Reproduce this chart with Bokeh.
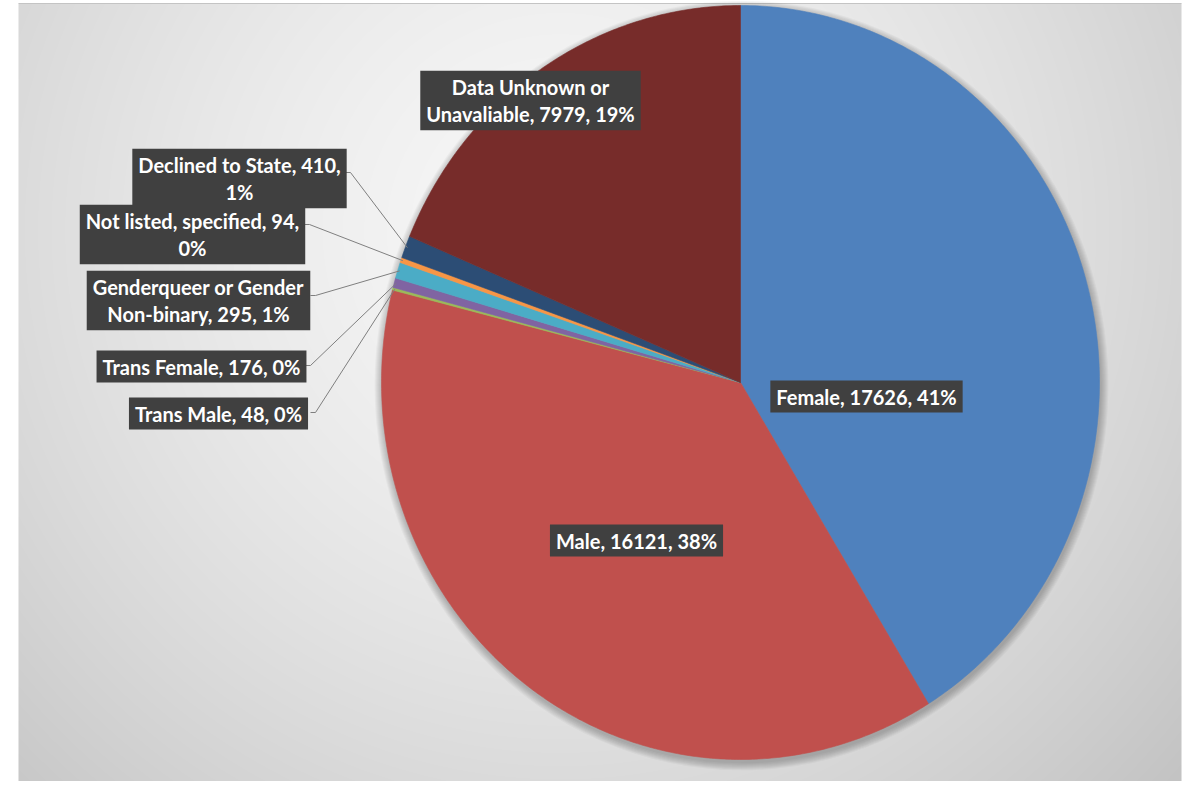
import numpy as np
from bokeh.plotting import figure
from bokeh.models import Range1d
from bokeh.core.properties import value
from bokeh.embed import file_html
from bokeh.resources import INLINE

# ---------------- data ----------------
categories = ["Female", "Male", "Trans Male", "Trans Female",
              "Genderqueer or Gender Non-binary", "Not listed, specified",
              "Declined to State", "Data Unknown or Unavaliable"]
counts = [17626, 16121, 48, 176, 295, 94, 410, 7979]
colors = ["#4F81BD", "#C0504D", "#9BBB59", "#8064A2",
          "#4BACC6", "#F79646", "#2C4D75", "#772C2A"]
# where each label wraps onto a second line
wrap_before = [None, None, None, None, "Non-binary", None, None, "Unavaliable"]
wrap_pct = [False, False, False, False, False, True, True, False]

# ---------------- layout (image pixels) ----------------
W, H = 1184, 781
def fy(py):
    return H - py

cx, cy = 740, fy(382)
rx, ry = 359, 377

label_px = [866, 636, 218, 201, 198, 192, 239, 530]
label_py = [396, 540, 413, 366, 300, 234, 178, 100]
# leader anchors (box right edge) for the small slices
leader_box_x = {2: 310, 3: 305, 4: 310, 5: 304, 6: 345}
leader_box_y = {2: 412, 3: 365, 4: 295, 5: 224, 6: 172}

p = figure(width=W, height=H, output_backend="svg", toolbar_location=None,
           x_range=Range1d(0, W), y_range=Range1d(0, H),
           min_border=0, outline_line_color=None, background_fill_color="white",
           border_fill_color="white")
p.axis.visible = False
p.grid.visible = False

# ---------- background gradient panel ----------
x0, x1 = 18, 1181
top_py = 3
nx = x1 - x0
ny = H - top_py
xs = x0 + np.arange(nx) + 0.5
pys = H - (np.arange(ny) + 0.5)
XX, PY = np.meshgrid(xs, pys)
d = np.sqrt((XX - 560) ** 2 + (PY - 230) ** 2)
c = np.clip(247 - 52 * (d / 830) ** 1.5, 190, 255).astype(np.uint32)
img = ((255 << 24) | (c << 16) | (c << 8) | c).astype(np.uint32)
p.image_rgba(image=[img], x=x0, y=0, dw=nx, dh=ny)
p.line([x0, x1], [fy(top_py), fy(top_py)], line_color="#c4c4c4", line_width=1)

# ---------- soft shadow under the pie ----------
for k in range(1, 9):
    p.ellipse(x=cx + 1, y=cy - 3, width=2 * rx + 2 * k, height=2 * ry + 2 * k,
              fill_color="black", fill_alpha=0.03, line_color=None)

# ---------- pie slices ----------
total = float(sum(counts))
fr = np.array(counts) / total
ends = np.cumsum(fr) * 2 * np.pi
starts = ends - fr * 2 * np.pi
xs_list, ys_list = [], []
for a0, a1 in zip(starts, ends):
    n = max(4, int((a1 - a0) / (2 * np.pi) * 720))
    t = np.linspace(a0, a1, n)
    xs_list.append([cx] + list(cx + rx * np.sin(t)))
    ys_list.append([cy] + list(cy + ry * np.cos(t)))
p.patches(xs_list, ys_list, fill_color=colors, line_color=colors, line_width=0.6)

# ---------- leader lines ----------
for i in leader_box_x:
    mid = (starts[i] + ends[i]) / 2
    ex = cx + (rx - 2) * np.sin(mid)
    ey = cy + (ry - 2) * np.cos(mid)
    bx, by = leader_box_x[i], fy(leader_box_y[i])
    p.line([bx, bx + 5, ex], [by, by, ey], line_color="#7f7f7f", line_width=1)

# ---------- labels ----------
texts = []
for i, name in enumerate(categories):
    pct = int(round(100 * counts[i] / total))
    nm = name
    if wrap_before[i] is not None:
        nm = name.replace(" " + wrap_before[i], "\n" + wrap_before[i])
    if wrap_pct[i]:
        texts.append(f"{nm}, {counts[i]},\n{pct}%")
    else:
        texts.append(f"{nm}, {counts[i]}, {pct}%")

p.text(x=label_px, y=[fy(v) for v in label_py], text=texts,
       text_font=value("Lato"), text_font_style="bold", text_font_size="20px",
       text_color="white", text_align="center", text_baseline="middle",
       text_line_height=1.15,
       background_fill_color="#404040", background_fill_alpha=1.0,
       padding=dict(left=6, right=6, top=4, bottom=4))

open("out.html", "w").write(file_html(p, INLINE))
